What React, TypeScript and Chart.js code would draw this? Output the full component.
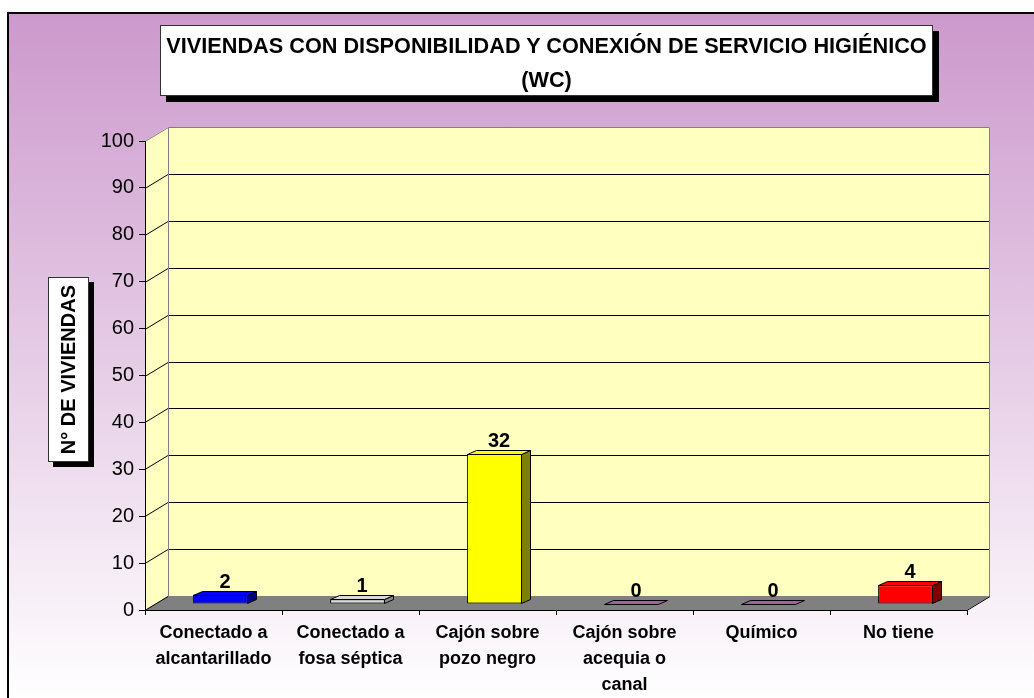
import React, { useEffect, useRef } from 'react';
import { Chart, registerables } from 'chart.js';

Chart.register(...registerables);

const titleLines = ['VIVIENDAS CON DISPONIBILIDAD Y CONEXIÓN DE SERVICIO HIGIÉNICO', '(WC)'];
const yAxisTitle = 'N° DE VIVIENDAS';
const categories = [
  ['Conectado a', 'alcantarillado'],
  ['Conectado a', 'fosa séptica'],
  ['Cajón sobre', 'pozo negro'],
  ['Cajón sobre', 'acequia o', 'canal'],
  ['Químico'],
  ['No tiene'],
];
const values = [2, 1, 32, 0, 0, 4];
const yMin = 0;
const yMax = 100;
const yStep = 10;

const frontColors = ['#0000FF', '#D9D9D9', '#FFFF00', '#996699', '#996699', '#FF0000'];
const sideColors = ['#000080', '#8C8C8C', '#808000', '#4D334D', '#4D334D', '#800000'];

const FONT = "'Liberation Sans', Arial, sans-serif";
const WALL_DX = 23;
const WALL_DY = -14;
const BAR_DX = 7;
const BAR_DY = -6;
const FACE_DX = 9;
const FACE_DY = -4;

function poly(ctx: CanvasRenderingContext2D, pts: number[][]) {
  ctx.beginPath();
  pts.forEach((p, i) => (i === 0 ? ctx.moveTo(p[0], p[1]) : ctx.lineTo(p[0], p[1])));
  ctx.closePath();
}

const wallsPlugin = {
  id: 'walls3d',
  beforeDraw(chart: any) {
    const { ctx, chartArea: a, scales } = chart;
    const y = scales.y;
    const L = a.left, R = a.right, T = a.top, B = a.bottom;
    ctx.save();
    ctx.fillStyle = '#FFFFC0';
    poly(ctx, [[L, T], [L + WALL_DX, T + WALL_DY], [L + WALL_DX, B + WALL_DY], [L, B]]);
    ctx.fill();
    ctx.fillRect(L + WALL_DX, T + WALL_DY, R - L, B - T);
    ctx.fillStyle = '#808080';
    poly(ctx, [[L, B], [R, B], [R + WALL_DX, B + WALL_DY], [L + WALL_DX, B + WALL_DY]]);
    ctx.fill();

    ctx.lineWidth = 1;
    ctx.strokeStyle = '#000000';
    y.ticks.forEach((t: any) => {
      if (t.value >= y.max) return;
      const py = Math.round(y.getPixelForValue(t.value)) + 0.5;
      ctx.beginPath();
      ctx.moveTo(L, py);
      ctx.lineTo(L + WALL_DX, py + WALL_DY);
      if (t.value > y.min) ctx.lineTo(R + WALL_DX, py + WALL_DY);
      ctx.stroke();
    });
    ctx.beginPath();
    ctx.moveTo(R, B + 0.5);
    ctx.lineTo(R + WALL_DX, B + WALL_DY + 0.5);
    ctx.stroke();

    ctx.strokeStyle = '#808080';
    const bx = Math.round(L + WALL_DX) + 0.5;
    const rx = Math.round(R + WALL_DX) - 0.5;
    const ty = Math.round(T + WALL_DY) + 0.5;
    const by = B + WALL_DY;
    ctx.beginPath();
    ctx.moveTo(L, T + 0.5);
    ctx.lineTo(bx, ty);
    ctx.lineTo(rx, ty);
    ctx.lineTo(rx, by);
    ctx.moveTo(bx, ty);
    ctx.lineTo(bx, by);
    ctx.stroke();
    ctx.restore();
  },
};

const barsPlugin = {
  id: 'bars3d',
  beforeDatasetsDraw(chart: any) {
    chart.ctx.save();
    chart.ctx.translate(BAR_DX, BAR_DY);
  },
  afterDatasetsDraw(chart: any) {
    const ctx = chart.ctx as CanvasRenderingContext2D;
    const meta = chart.getDatasetMeta(0);
    ctx.lineWidth = 1;
    ctx.strokeStyle = '#000000';
    meta.data.forEach((el: any, i: number) => {
      const { x, y, base, width } = el.getProps(['x', 'y', 'base', 'width'], true);
      const x1 = Math.round(x - width / 2) + 0.5;
      const x2 = Math.round(x + width / 2) - 0.5;
      const yt = Math.round(y) + 0.5;
      const yb = Math.round(base) - 0.5;
      if (yb - yt > 1) {
        ctx.fillStyle = sideColors[i];
        poly(ctx, [[x2, yt], [x2 + FACE_DX, yt + FACE_DY], [x2 + FACE_DX, yb + FACE_DY], [x2, yb]]);
        ctx.fill();
        ctx.stroke();
      }
      ctx.fillStyle = frontColors[i];
      poly(ctx, [[x1, yt], [x1 + FACE_DX, yt + FACE_DY], [x2 + FACE_DX, yt + FACE_DY], [x2, yt]]);
      ctx.fill();
      ctx.stroke();

      ctx.fillStyle = '#000000';
      ctx.font = `bold 20px ${FONT}`;
      ctx.textAlign = 'center';
      ctx.textBaseline = 'alphabetic';
      ctx.fillText(String(values[i]), x + FACE_DX / 2, y - 7);
    });
    ctx.restore();
  },
};

export default function App() {
  const ref = useRef<HTMLCanvasElement>(null);

  useEffect(() => {
    if (!ref.current) return;
    const chart = new Chart(ref.current, {
      type: 'bar',
      data: {
        labels: categories,
        datasets: [
          {
            data: values,
            backgroundColor: frontColors,
            borderColor: '#000000',
            borderWidth: 1,
            borderSkipped: false,
            barPercentage: 0.4,
            categoryPercentage: 1,
            clip: false as any,
          },
        ],
      },
      options: {
        animation: false,
        responsive: false,
        events: [],
        layout: { padding: { top: 141, right: 67, left: 0, bottom: 0 } },
        plugins: {
          legend: { display: false },
          tooltip: { enabled: false },
          title: { display: false },
        },
        scales: {
          x: {
            offset: true,
            afterFit: (s: any) => {
              s.height = 88;
            },
            grid: {
              offset: true,
              drawOnChartArea: false,
              drawTicks: true,
              tickLength: 5,
              color: '#000000',
            },
            border: { display: true, color: '#000000', width: 1 },
            ticks: {
              color: '#000000',
              padding: 5,
              maxRotation: 0,
              autoSkip: false,
              font: { family: FONT, size: 18, weight: 'bold', lineHeight: '26px' as any },
            },
          },
          y: {
            min: yMin,
            max: yMax,
            afterFit: (s: any) => {
              s.width = 145;
            },
            grid: {
              drawOnChartArea: false,
              drawTicks: true,
              tickLength: 6,
              color: '#000000',
            },
            border: { display: true, color: '#000000', width: 1 },
            ticks: {
              stepSize: yStep,
              color: '#000000',
              padding: 5,
              font: { family: FONT, size: 20 },
            },
          },
        },
      },
      plugins: [wallsPlugin, barsPlugin],
    });
    return () => chart.destroy();
  }, []);

  return (
    <div
      style={{
        position: 'fixed',
        left: 0,
        top: 0,
        width: 1034,
        height: 698,
        overflow: 'hidden',
        fontFamily: FONT,
      }}
    >
      <div
        style={{
          position: 'absolute',
          left: 7,
          top: 12,
          width: 1100,
          height: 800,
          border: '2px solid #000',
          boxSizing: 'border-box',
          background: 'linear-gradient(to bottom, #CC99CC 0px, #FFFFFF 686px)',
        }}
      />
      <canvas
        ref={ref}
        width={1034}
        height={698}
        style={{ position: 'absolute', left: 0, top: 0, width: 1034, height: 698, display: 'block' }}
      />
      <div
        style={{
          position: 'absolute',
          left: 160,
          top: 25,
          width: 773,
          height: 71,
          boxSizing: 'border-box',
          background: '#FFFFFF',
          border: '1px solid #333',
          boxShadow: '6px 6px 0 #000',
          textAlign: 'center',
          fontWeight: 'bold',
          fontSize: 21.7,
          lineHeight: '34px',
          paddingTop: 3,
          color: '#000',
          whiteSpace: 'nowrap',
        }}
      >
        {titleLines.map((t) => (
          <div key={t}>{t}</div>
        ))}
      </div>
      <div
        style={{
          position: 'absolute',
          left: 48,
          top: 277,
          width: 41,
          height: 185,
          boxSizing: 'border-box',
          background: '#FFFFFF',
          border: '1px solid #333',
          boxShadow: '5px 5px 0 #000',
          display: 'flex',
          alignItems: 'center',
          justifyContent: 'center',
        }}
      >
        <div
          style={{
            writingMode: 'vertical-rl',
            transform: 'rotate(180deg)',
            fontWeight: 'bold',
            fontSize: 20,
            color: '#000',
            whiteSpace: 'nowrap',
          }}
        >
          {yAxisTitle}
        </div>
      </div>
    </div>
  );
}
